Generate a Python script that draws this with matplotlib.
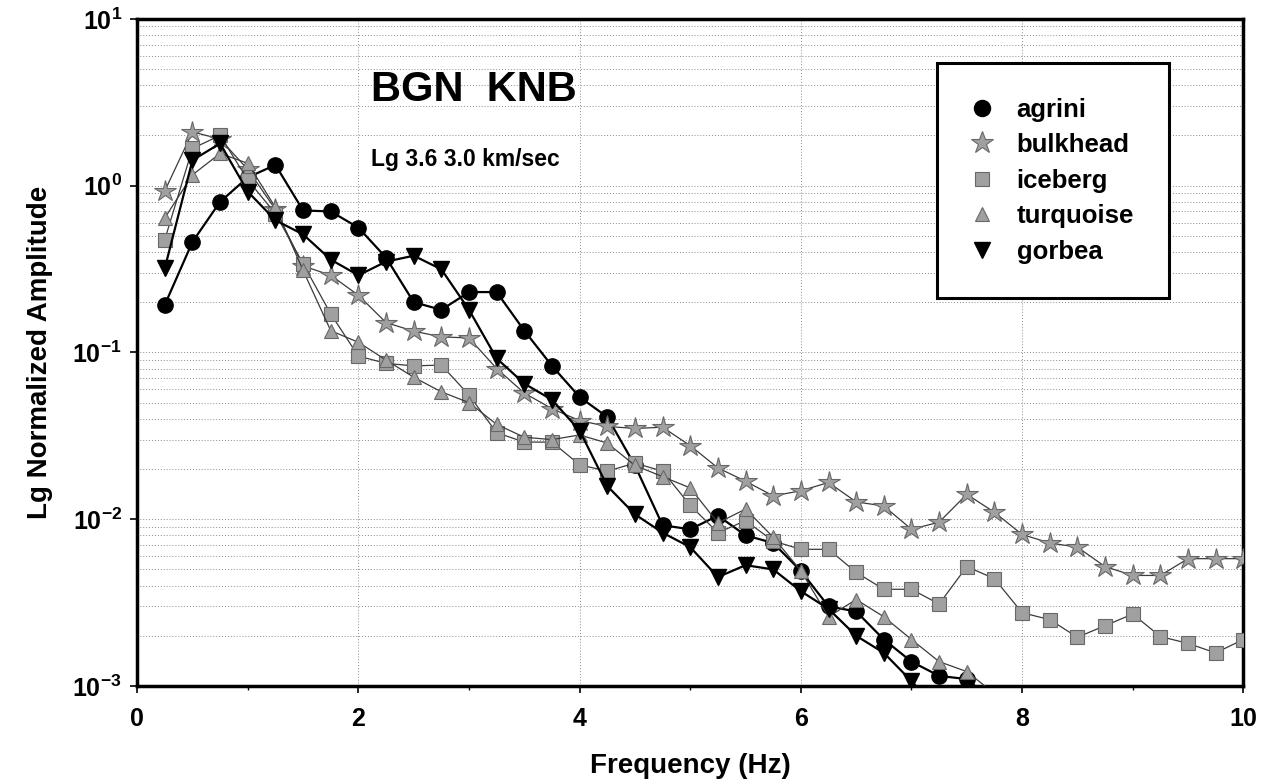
import numpy as np
import matplotlib
matplotlib.use("Agg")
import matplotlib.pyplot as plt
from matplotlib.ticker import FixedLocator, FuncFormatter, NullFormatter

plt.rcParams['font.family'] = ['Liberation Sans', 'DejaVu Sans']
plt.rcParams['font.weight'] = 'bold'
plt.rcParams['mathtext.fontset'] = 'custom'
plt.rcParams['mathtext.bf'] = 'Liberation Sans:bold'
plt.rcParams['mathtext.rm'] = 'Liberation Sans:bold'

# ---- data (frequency steps of 0.25 Hz) ----
freq_step = 0.25
agrini = [0.193, 0.46, 0.80, 1.12, 1.33, 0.71, 0.70, 0.56, 0.37, 0.20, 0.18, 0.23,
          0.23, 0.135, 0.083, 0.054, 0.041, 0.021, 0.0092, 0.0087, 0.0105, 0.0080,
          0.0072, 0.0049, 0.0030, 0.0028, 0.0019, 0.0014, 0.00115, 0.0011, 0.0008]
bulkhead = [0.93, 2.1, 1.9, 1.25, 0.72, 0.33, 0.29, 0.22, 0.151, 0.134, 0.124, 0.122,
            0.080, 0.057, 0.046, 0.039, 0.036, 0.035, 0.0356, 0.0276, 0.0203, 0.0169,
            0.0138, 0.0148, 0.0166, 0.0127, 0.012, 0.0087, 0.0096, 0.0141, 0.0110,
            0.0081, 0.0072, 0.0068, 0.0052, 0.0046, 0.0046, 0.0058, 0.0058, 0.0058]
iceberg = [0.475, 1.67, 2.0, 1.08, 0.68, 0.34, 0.17, 0.095, 0.086, 0.083, 0.084, 0.0555,
           0.033, 0.029, 0.029, 0.0212, 0.0194, 0.0217, 0.0194, 0.0121, 0.0083, 0.0098,
           0.0074, 0.0066, 0.0066, 0.0048, 0.0038, 0.0038, 0.0031, 0.0052, 0.0044,
           0.00275, 0.0025, 0.00196, 0.0023, 0.0027, 0.00198, 0.0018, 0.00158, 0.0019]
turquoise = [0.64, 1.16, 1.56, 1.36, 0.74, 0.31, 0.135, 0.115, 0.09, 0.071, 0.058, 0.05,
             0.037, 0.031, 0.030, 0.032, 0.0286, 0.021, 0.018, 0.0154, 0.0095, 0.0115,
             0.0078, 0.0049, 0.0026, 0.0033, 0.0026, 0.0019, 0.0014, 0.00122, 0.0009]
gorbea = [0.32, 1.42, 1.79, 0.92, 0.62, 0.51, 0.36, 0.29, 0.35, 0.38, 0.315, 0.18,
          0.092, 0.065, 0.052, 0.034, 0.0158, 0.0107, 0.0083, 0.0068, 0.0045, 0.0053,
          0.0050, 0.0037, 0.0029, 0.0020, 0.00158, 0.00107, 0.0007]

x_ticks = [0, 2, 4, 6, 8, 10]
y_decades = [-3, -2, -1, 0, 1]


def freqs(vals):
    return freq_step * np.arange(1, len(vals) + 1)


fig = plt.figure(figsize=(12.7, 7.84), dpi=100)
ax = fig.add_axes([0.108, 0.125, 0.871, 0.851])

gray_fill = '#a0a0a0'
gray_edge = '#686868'
line_gray = '#3a3a3a'

ax.plot(freqs(agrini), agrini, color='black', lw=1.6, marker='o', ms=11,
        mfc='black', mec='black', label='agrini', zorder=3)
ax.plot(freqs(bulkhead), bulkhead, color=line_gray, lw=0.9, marker='*', ms=16,
        mfc=gray_fill, mec=gray_edge, mew=0.8, label='bulkhead', zorder=3)
ax.plot(freqs(iceberg), iceberg, color=line_gray, lw=0.9, marker='s', ms=9.5,
        mfc=gray_fill, mec=gray_edge, mew=0.8, label='iceberg', zorder=3)
ax.plot(freqs(turquoise), turquoise, color=line_gray, lw=0.9, marker='^', ms=10,
        mfc=gray_fill, mec=gray_edge, mew=0.8, label='turquoise', zorder=3)
ax.plot(freqs(gorbea), gorbea, color='black', lw=1.6, marker='v', ms=11,
        mfc='black', mec='black', label='gorbea', zorder=3)

ax.set_yscale('log')
ax.set_xlim(0, 10)
ax.set_ylim(1e-3, 1e1)

ax.xaxis.set_major_locator(FixedLocator(x_ticks))
ax.xaxis.set_minor_locator(FixedLocator([1, 3, 5, 7, 9]))
ax.yaxis.set_major_locator(FixedLocator([10.0 ** d for d in y_decades]))
minor = [m * 10.0 ** d for d in y_decades[:-1] for m in range(2, 10)]
ax.yaxis.set_minor_locator(FixedLocator(minor))
ax.yaxis.set_major_formatter(FuncFormatter(lambda v, p: r'$\mathbf{10^{%d}}$' % int(round(np.log10(v)))))
ax.yaxis.set_minor_formatter(NullFormatter())
ax.xaxis.set_major_formatter(FuncFormatter(lambda v, p: '%d' % v))

ax.tick_params(axis='x', which='major', labelsize=18, length=5, width=1.2,
               direction='out', pad=10)
ax.tick_params(axis='y', which='major', labelsize=18, length=5, width=1.2,
               direction='out', pad=6)
ax.tick_params(axis='x', which='minor', length=3, width=1)
ax.tick_params(axis='y', which='minor', length=0)
for lab in ax.get_xticklabels() + ax.get_yticklabels():
    lab.set_fontweight('bold')

ax.grid(True, which='both', axis='y', color='#8a8a8a', linestyle=(0, (1, 2)), lw=0.7)
ax.grid(True, which='major', axis='x', color='#8a8a8a', linestyle=(0, (1, 2)), lw=0.7)

for s in ax.spines.values():
    s.set_linewidth(2.5)
    s.set_color('black')

ax.set_xlabel('Frequency (Hz)', fontsize=20, fontweight='bold', labelpad=16)
ax.set_ylabel('Lg Normalized Amplitude', fontsize=20, fontweight='bold', labelpad=14)

ax.text(0.211, 0.894, 'BGN  KNB', transform=ax.transAxes, fontsize=30,
        fontweight='bold', va='center', ha='left')
ax.text(0.211, 0.789, 'Lg 3.6 3.0 km/sec', transform=ax.transAxes, fontsize=16.5,
        fontweight='bold', va='center', ha='left')

leg = ax.legend(loc='upper left', bbox_to_anchor=(0.723, 0.934), frameon=True,
                fancybox=False, prop={'weight': 'bold', 'size': 18.5},
                borderpad=1.35, labelspacing=0.45, handlelength=0.8, handletextpad=0.95,
                borderaxespad=0, numpoints=1)
leg.get_frame().set_edgecolor('black')
leg.get_frame().set_linewidth(2.2)
leg.get_frame().set_facecolor('white')
leg.get_frame().set_alpha(1)
for h in leg.legend_handles:
    h.set_linestyle('None')
    h.set_markersize(h.get_markersize() * 1.05)

fig.savefig('out.png', dpi=100, facecolor='white')
